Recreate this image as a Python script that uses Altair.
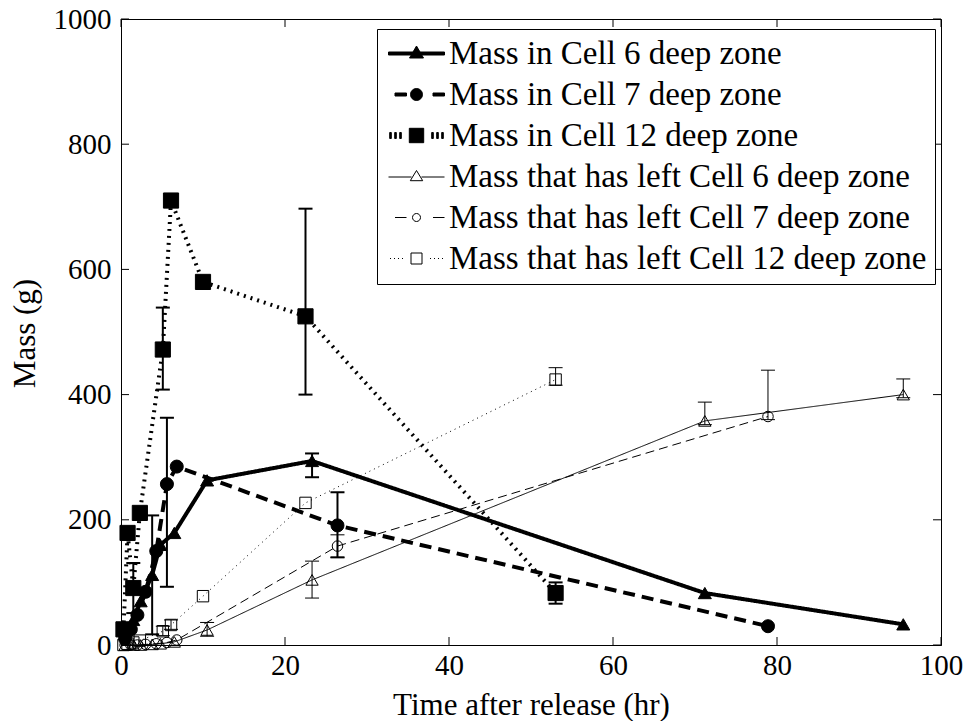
import altair as alt
import pandas as pd

# ---------------- data ----------------
names = [
    "Mass in Cell 6 deep zone",
    "Mass in Cell 7 deep zone",
    "Mass in Cell 12 deep zone",
    "Mass that has left Cell 6 deep zone",
    "Mass that has left Cell 7 deep zone",
    "Mass that has left Cell 12 deep zone",
]

t6 = [0.5, 1.5, 2.4, 3.8, 4.8, 6.5, 10.5, 23.3, 71.2, 95.4]
m6 = [22, 40, 70, 112, 160, 179, 263, 294, 83, 33]
l6 = [0, 0, 0, 1, 2, 5, 24, 104, 358, 400]

t7 = [0.5, 1.2, 2.0, 3.0, 4.3, 5.6, 6.8, 26.4, 78.9]
m7 = [10, 25, 48, 85, 150, 257, 285, 191, 30]
l7 = [0, 0, 0, 1, 2, 4, 8, 158, 365]

t12 = [0.3, 0.8, 1.5, 2.3, 5.1, 6.1, 10.0, 22.5, 53.0]
m12 = [25, 179, 91, 211, 472, 710, 580, 525, 83]
l12 = [0, 2, 4, 7, 22, 32, 78, 227, 424]

err_series = [0, 0, 1, 1, 2, 2, 2, 2, 2, 3, 3, 3, 3, 4, 4, 5, 5, 5]
err_t = [3.8, 23.3, 5.6, 26.4, 1.5, 5.1, 6.1, 22.5, 53.0,
         10.5, 23.3, 71.2, 95.4, 26.4, 78.9, 5.1, 6.1, 53.0]
err_lo = [17, 268, 93, 140, 51, 408, 700, 400, 66,
          14, 75, 352, 395, 140, 360, 15, 25, 415]
err_hi = [207, 306, 363, 244, 131, 539, 720, 697, 100,
          36, 134, 388, 425, 176, 439, 30, 40, 443]

x_ticks = [0, 20, 40, 60, 80, 100]
y_ticks = [0, 200, 400, 600, 800, 1000]

# ---------------- tables ----------------
rows = []
for name, ts, vs in [
    (names[0], t6, m6), (names[1], t7, m7), (names[2], t12, m12),
    (names[3], t6, l6), (names[4], t7, l7), (names[5], t12, l12),
]:
    for t, v in zip(ts, vs):
        rows.append({"series": name, "t": t, "mass": v})
df = pd.DataFrame(rows)

err = pd.DataFrame({
    "series": [names[i] for i in err_series],
    "t": err_t, "lo": err_lo, "hi": err_hi,
})
xt = pd.DataFrame({"tx": x_ticks})
yt = pd.DataFrame({"ty": y_ticks})

W, H = 820, 626
FONT = "Liberation Serif"

xscale = alt.Scale(domain=[0, 100], nice=False, zero=False)
yscale = alt.Scale(domain=[0, 1000], nice=False)

xenc = alt.X("t:Q", scale=xscale, axis=alt.Axis(
    values=x_ticks, format="d", title="Time after release (hr)", titleX=W / 2, titleY=60,
    titleBaseline="middle", labelPadding=6, labelFlush=False))
yenc = alt.Y("mass:Q", scale=yscale, axis=alt.Axis(
    values=y_ticks, format="d", title="Mass (g)", titleX=-96, titleY=H / 2 + 1,
    titleBaseline="middle", titleAlign="center", labelPadding=10, labelFlush=False))

# per-series styles: dash, line width, error-bar width, shape, filled, size
styles = [
    ([1, 0], 4, 2, "triangle-up", True, 170),
    ([12, 7], 4, 2, "circle", True, 170),
    ([2, 5], 4, 2, "square", True, 230),
    ([1, 0], 1, 1, "triangle-up", False, 150),
    ([9, 5], 1, 1, "circle", False, 110),
    ([1, 4], 1, 1, "square", False, 130),
]

layers = []
first = True
for name, (dash, lw, ew, shp, filled, sz) in zip(names, styles):
    flt = alt.datum.series == name
    ln = alt.Chart(df).transform_filter(flt).mark_line(
        color="black", strokeWidth=lw, strokeDash=dash, strokeCap="butt"
    ).encode(x=xenc if first else alt.X("t:Q", scale=xscale),
             y=yenc if first else alt.Y("mass:Q", scale=yscale))
    first = False
    eb = alt.Chart(err).transform_filter(flt).mark_rule(color="black", strokeWidth=ew).encode(
        x=alt.X("t:Q", scale=xscale), y=alt.Y("lo:Q", scale=yscale), y2="hi:Q")
    ch = alt.Chart(err).transform_filter(flt).mark_rule(
        color="black", strokeWidth=ew, xOffset=-7, x2Offset=7).encode(
        x=alt.X("t:Q", scale=xscale), x2="t:Q", y=alt.Y("hi:Q", scale=yscale))
    cl = alt.Chart(err).transform_filter(flt).mark_rule(
        color="black", strokeWidth=ew, xOffset=-7, x2Offset=7).encode(
        x=alt.X("t:Q", scale=xscale), x2="t:Q", y=alt.Y("lo:Q", scale=yscale))
    if filled:
        pt = alt.Chart(df).transform_filter(flt).mark_point(
            shape=shp, filled=True, fill="black",
            stroke="black", strokeWidth=1, size=sz, opacity=1)
    else:
        pt = alt.Chart(df).transform_filter(flt).mark_point(
            shape=shp, filled=False, stroke="black", strokeWidth=1, size=sz, opacity=1)
    pt = pt.encode(x=alt.X("t:Q", scale=xscale), y=alt.Y("mass:Q", scale=yscale))
    layers += [ln, eb, ch, cl, pt]

# inward ticks on all four sides
tick_b = alt.Chart(xt).mark_rule(color="black").encode(
    x=alt.X("tx:Q", scale=xscale), y=alt.value(H), y2=alt.value(H - 8))
tick_t = alt.Chart(xt).mark_rule(color="black").encode(
    x=alt.X("tx:Q", scale=xscale), y=alt.value(0), y2=alt.value(8))
tick_l = alt.Chart(yt).mark_rule(color="black").encode(
    y=alt.Y("ty:Q", scale=yscale), x=alt.value(0), x2=alt.value(8))
tick_r = alt.Chart(yt).mark_rule(color="black").encode(
    y=alt.Y("ty:Q", scale=yscale), x=alt.value(W), x2=alt.value(W - 8))

# legend: line + marker glyphs as custom symbol paths (1 unit = 10 px)
leg_paths = [
    "M-2.8,-0.15H2.8V0.15H-2.8Z M0,-0.75L0.7,0.45L-0.7,0.45Z",
    "M-2.15,-0.15H-1.0V0.15H-2.15Z M1.65,-0.15H2.8V0.15H1.65Z "
    "M0.6,0A0.6,0.6 0 1,1 -0.6,0A0.6,0.6 0 1,1 0.6,0Z",
    "M-2.68,-0.3H-2.52V0.3H-2.68Z M-2.18,-0.3H-2.02V0.3H-2.18Z M-1.68,-0.3H-1.52V0.3H-1.68Z "
    "M1.52,-0.3H1.68V0.3H1.52Z M2.02,-0.3H2.18V0.3H2.02Z M2.52,-0.3H2.68V0.3H2.52Z "
    "M-0.72,-0.72H0.72V0.72H-0.72Z",
    "M-2.8,0.05H-0.5 M0.5,0.05H2.8 M0,-0.6L0.62,0.42L-0.62,0.42Z",
    "M-2.15,0H-1.0 M1.65,0H2.8 M0.4,0A0.4,0.4 0 1,1 -0.4,0A0.4,0.4 0 1,1 0.4,0Z",
    "M-2.65,0H-2.55 M-2.25,0H-2.15 M-1.85,0H-1.75 M-1.45,0H-1.35 "
    "M1.35,0H1.45 M1.75,0H1.85 M2.15,0H2.25 M2.55,0H2.65 "
    "M-0.55,-0.55H0.55V0.55H-0.55Z",
]
fill_scale = alt.Scale(domain=names, range=[
    "black", "black", "black", "transparent", "transparent", "transparent"])
legend = alt.Legend(
    title=None, orient="none", legendX=256, legendY=10,
    labelFont=FONT, labelFontSize=33, labelColor="black", labelLimit=1000,
    symbolSize=400, symbolStrokeWidth=1, symbolOffset=15, labelOffset=16,
    rowPadding=7, padding=8, strokeColor="black", fillColor="white",
)
leg_layer = alt.Chart(df).transform_filter("false").mark_point(
    filled=True, opacity=1).encode(
    x=alt.X("t:Q", scale=xscale), y=alt.Y("mass:Q", scale=yscale),
    shape=alt.Shape("series:N", scale=alt.Scale(domain=names, range=leg_paths), legend=legend),
    fill=alt.Fill("series:N", scale=fill_scale, legend=legend),
    stroke=alt.Stroke("series:N", scale=alt.Scale(domain=names, range=["black"] * 6), legend=legend),
)

chart = alt.layer(
    *layers, tick_b, tick_t, tick_l, tick_r, leg_layer
).properties(
    width=W, height=H, autosize="none",
    padding={"left": 121, "top": 19, "right": 28, "bottom": 76},
    background="white",
).configure_view(
    stroke="black", strokeWidth=1,
).configure_axis(
    grid=False, ticks=False, domainColor="black", domainWidth=1,
    labelFont=FONT, labelFontSize=29, labelColor="black",
    titleFont=FONT, titleFontSize=31, titleColor="black", titleFontWeight="normal",
)

chart.save("out.html", embed_options={"renderer": "svg", "actions": False})
